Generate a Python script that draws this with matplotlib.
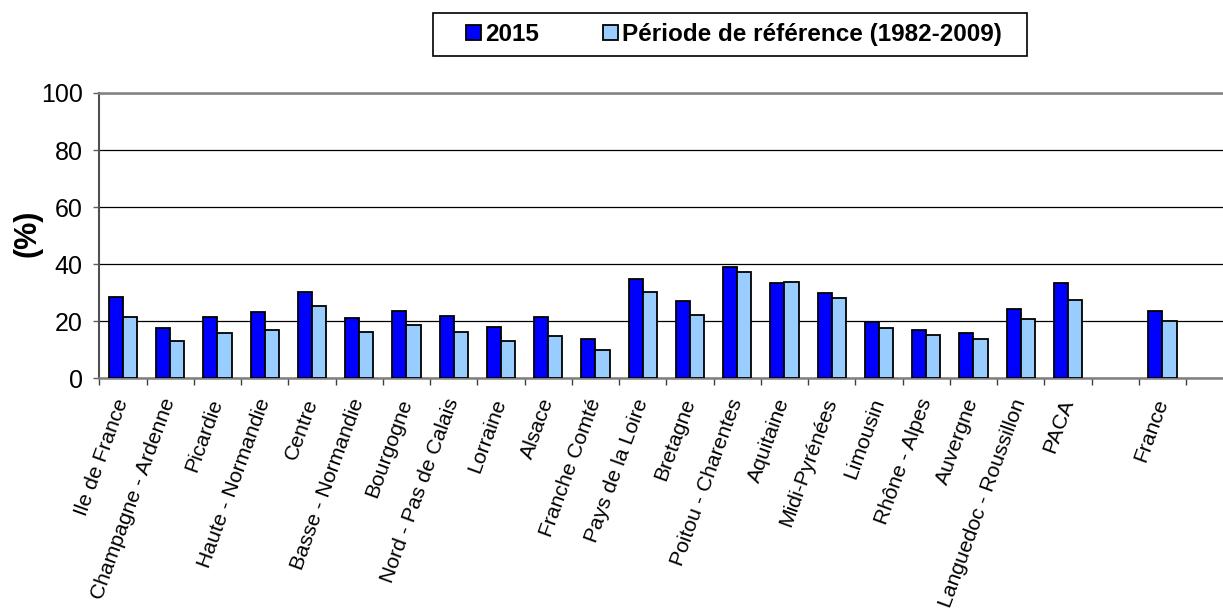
import numpy as np
import matplotlib
matplotlib.use("Agg")
import matplotlib.pyplot as plt
from matplotlib.patches import Rectangle

plt.rcParams['font.family'] = ['Liberation Sans', 'DejaVu Sans']

regions = ["Ile de France", "Champagne - Ardenne", "Picardie", "Haute - Normandie",
           "Centre", "Basse - Normandie", "Bourgogne", "Nord - Pas de Calais",
           "Lorraine", "Alsace", "Franche Comté", "Pays de la Loire", "Bretagne",
           "Poitou - Charentes", "Aquitaine", "Midi-Pyrénées", "Limousin",
           "Rhône - Alpes", "Auvergne", "Languedoc - Roussillon", "PACA", "", "France"]

val_2015 = [28.4, 17.8, 21.6, 23.4, 30.3, 21.0, 23.7, 22.0, 18.1, 21.4, 13.8,
            34.8, 27.2, 38.9, 33.3, 29.8, 19.8, 16.9, 15.9, 24.2, 33.3, np.nan, 23.6]
val_ref = [21.4, 13.0, 15.9, 16.9, 25.5, 16.1, 18.7, 16.4, 12.9, 14.8, 9.9,
           30.2, 22.2, 37.4, 33.7, 28.1, 17.5, 15.2, 13.7, 20.9, 27.6, np.nan, 20.1]

lab_2015 = "2015"
lab_ref = "Période de référence (1982-2009)"

W, H = 1223, 615
fig = plt.figure(figsize=(W/100, H/100), dpi=100)
ax = fig.add_axes([99.3/W, 1-378.3/H, (W-99.3)/W, 285.3/H])

x = np.arange(len(regions))
bw = 0.3
b1 = ax.bar(x-bw/2, val_2015, bw, color='#0000FF', edgecolor='black', linewidth=1.3, label=lab_2015, zorder=3)
b2 = ax.bar(x+bw/2, val_ref, bw, color='#99CCFF', edgecolor='black', linewidth=1.3, label=lab_ref, zorder=3)

ax.set_ylim(0, 100)
ax.set_xlim(-0.5, (W-99.3)/47.25-0.5)
ax.set_yticks([0, 20, 40, 60, 80, 100])
ax.yaxis.grid(True, color='black', linewidth=0.9)
ax.set_axisbelow(True)
ax.tick_params(axis='y', labelsize=18, length=4, width=1, color='#606060', pad=8)

ax.set_xticks(np.arange(len(regions)+1)-0.5)
ax.set_xticklabels([])
ax.tick_params(axis='x', which='major', length=5, width=1, color='#404040')
ax.set_xticks(x, minor=True)
ax.set_xticklabels(regions, minor=True, rotation=70, ha='right', va='center',
                   rotation_mode='anchor', fontsize=15.2)
ax.tick_params(axis='x', which='minor', length=0, pad=15)

for s in ['top', 'bottom']:
    ax.spines[s].set_color('#808080')
    ax.spines[s].set_linewidth(1.8)
ax.spines['left'].set_color('#505050')
ax.spines['left'].set_linewidth(1.5)
ax.spines['right'].set_visible(False)

fig.text(27/W, 1-233/H, "(%)", rotation=90, ha='center', va='center',
         fontsize=22, fontweight='bold')

# legend box drawn by hand, entries inside
fig.patches.append(Rectangle((433/W, 1-56/H), 594/W, 43/H, transform=fig.transFigure,
                             facecolor='white', edgecolor='black', linewidth=1.2))
leg = fig.legend(handles=[b1, b2], loc='center', bbox_to_anchor=(734/W, 1-34.5/H),
                 ncol=2, frameon=False,
                 prop={'weight': 'bold', 'size': 17.5}, handlelength=0.62, handleheight=0.62,
                 handletextpad=0.18, columnspacing=2.6, borderpad=0.2, borderaxespad=0)

fig.savefig("out.png", dpi=100)
